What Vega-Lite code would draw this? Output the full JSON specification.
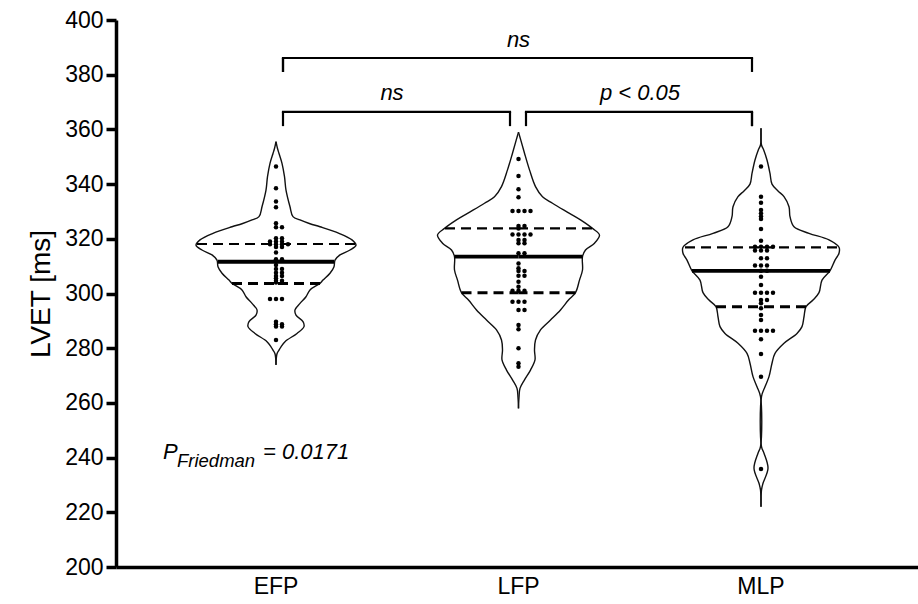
{
  "$schema": "https://vega.github.io/schema/vega-lite/v6.json",
  "width": 802,
  "height": 547,
  "autosize": "none",
  "padding": {"left": 116, "top": 20, "right": 0, "bottom": 37},
  "background": "white",
  "config": {"view": {"stroke": null}, "font": "Liberation Sans"},
  "datasets": {
    "dots": [
      {"group":"EFP","value":346.4},{"group":"EFP","value":338.5},{"group":"EFP","value":333.6},{"group":"EFP","value":331.5},{"group":"EFP","value":325.7},
      {"group":"EFP","value":324.2},{"group":"EFP","value":324.2},{"group":"EFP","value":320.2},{"group":"EFP","value":320.2},
      {"group":"EFP","value":319},{"group":"EFP","value":319},{"group":"EFP","value":319},
      {"group":"EFP","value":318},{"group":"EFP","value":318},{"group":"EFP","value":318},{"group":"EFP","value":318},
      {"group":"EFP","value":317},{"group":"EFP","value":317},{"group":"EFP","value":315},{"group":"EFP","value":312.5},{"group":"EFP","value":312.5},
      {"group":"EFP","value":310.4},{"group":"EFP","value":309},{"group":"EFP","value":309},{"group":"EFP","value":307.6},{"group":"EFP","value":307.6},
      {"group":"EFP","value":306.4},{"group":"EFP","value":306.4},{"group":"EFP","value":305.6},{"group":"EFP","value":304.7},{"group":"EFP","value":304.7},
      {"group":"EFP","value":304},{"group":"EFP","value":304},{"group":"EFP","value":298},{"group":"EFP","value":298},{"group":"EFP","value":298},
      {"group":"EFP","value":289.7},{"group":"EFP","value":288.8},{"group":"EFP","value":288.8},{"group":"EFP","value":287.9},{"group":"EFP","value":287.9},{"group":"EFP","value":283},

      {"group":"LFP","value":349.2},{"group":"LFP","value":343},{"group":"LFP","value":338.1},{"group":"LFP","value":335.2},
      {"group":"LFP","value":330.2},{"group":"LFP","value":330.2},{"group":"LFP","value":330.2},{"group":"LFP","value":330.2},
      {"group":"LFP","value":324.7},{"group":"LFP","value":324.7},{"group":"LFP","value":323.8},
      {"group":"LFP","value":321.6},{"group":"LFP","value":321.6},{"group":"LFP","value":321.6},{"group":"LFP","value":321.6},
      {"group":"LFP","value":319.6},{"group":"LFP","value":319.6},{"group":"LFP","value":318.4},{"group":"LFP","value":318.4},
      {"group":"LFP","value":314.7},{"group":"LFP","value":314.7},{"group":"LFP","value":311},{"group":"LFP","value":309.2},
      {"group":"LFP","value":308.2},{"group":"LFP","value":308.2},{"group":"LFP","value":306.5},{"group":"LFP","value":306.5},
      {"group":"LFP","value":304.3},{"group":"LFP","value":302.5},{"group":"LFP","value":301},{"group":"LFP","value":301},{"group":"LFP","value":301},
      {"group":"LFP","value":297},{"group":"LFP","value":297},{"group":"LFP","value":297},{"group":"LFP","value":294},{"group":"LFP","value":294},
      {"group":"LFP","value":288.5},{"group":"LFP","value":286.9},{"group":"LFP","value":280},{"group":"LFP","value":274.5},{"group":"LFP","value":273.2},

      {"group":"MLP","value":346.4},{"group":"MLP","value":335.4},{"group":"MLP","value":333.2},{"group":"MLP","value":330.5},{"group":"MLP","value":329.3},
      {"group":"MLP","value":328.2},{"group":"MLP","value":327.2},{"group":"MLP","value":323.6},{"group":"MLP","value":319.3},
      {"group":"MLP","value":317.1},{"group":"MLP","value":317.1},{"group":"MLP","value":317.1},{"group":"MLP","value":317.1},
      {"group":"MLP","value":315.7},{"group":"MLP","value":315.7},{"group":"MLP","value":315.7},{"group":"MLP","value":312.9},{"group":"MLP","value":312.9},
      {"group":"MLP","value":310.2},{"group":"MLP","value":310.2},{"group":"MLP","value":310.2},{"group":"MLP","value":308.3},{"group":"MLP","value":308.3},
      {"group":"MLP","value":306.1},{"group":"MLP","value":303.1},{"group":"MLP","value":300.3},{"group":"MLP","value":300.3},{"group":"MLP","value":300.3},{"group":"MLP","value":300.3},
      {"group":"MLP","value":297.6},{"group":"MLP","value":297.6},{"group":"MLP","value":296.4},{"group":"MLP","value":294.6},{"group":"MLP","value":292.1},{"group":"MLP","value":290.3},
      {"group":"MLP","value":286.4},{"group":"MLP","value":286.4},{"group":"MLP","value":286.4},{"group":"MLP","value":286.4},
      {"group":"MLP","value":283.3},{"group":"MLP","value":277.9},{"group":"MLP","value":269.6},{"group":"MLP","value":235.8}
    ],
    "outline": [
      {"group":"EFP","value":355.5,"density":0},{"group":"EFP","value":353.0,"density":0.015},{"group":"EFP","value":351.2,"density":0.03},
      {"group":"EFP","value":347.6,"density":0.06},{"group":"EFP","value":342.7,"density":0.085},{"group":"EFP","value":337.8,"density":0.10},
      {"group":"EFP","value":331.7,"density":0.14},{"group":"EFP","value":328.1,"density":0.17},{"group":"EFP","value":326.9,"density":0.24},
      {"group":"EFP","value":325.5,"density":0.34},{"group":"EFP","value":324.4,"density":0.44},{"group":"EFP","value":322.0,"density":0.63},
      {"group":"EFP","value":319.6,"density":0.76},{"group":"EFP","value":317.7,"density":0.80},{"group":"EFP","value":315.9,"density":0.74},
      {"group":"EFP","value":314.1,"density":0.64},{"group":"EFP","value":312.2,"density":0.59},{"group":"EFP","value":309.8,"density":0.58},
      {"group":"EFP","value":307.4,"density":0.54},{"group":"EFP","value":304.9,"density":0.47},{"group":"EFP","value":303.7,"density":0.44},
      {"group":"EFP","value":301.3,"density":0.34},{"group":"EFP","value":298.8,"density":0.30},{"group":"EFP","value":296.4,"density":0.24},
      {"group":"EFP","value":294.0,"density":0.19},{"group":"EFP","value":292.1,"density":0.20},{"group":"EFP","value":289.7,"density":0.27},
      {"group":"EFP","value":287.9,"density":0.28},{"group":"EFP","value":285.4,"density":0.21},{"group":"EFP","value":282.4,"density":0.09},
      {"group":"EFP","value":280.5,"density":0.05},{"group":"EFP","value":279.3,"density":0.03},{"group":"EFP","value":278.0,"density":0.01},
      {"group":"EFP","value":273.9,"density":0},

      {"group":"LFP","value":359.0,"density":0},{"group":"LFP","value":356.1,"density":0.023},{"group":"LFP","value":351.3,"density":0.06},
      {"group":"LFP","value":345.2,"density":0.11},{"group":"LFP","value":339.1,"density":0.17},{"group":"LFP","value":335.4,"density":0.24},
      {"group":"LFP","value":333.0,"density":0.34},{"group":"LFP","value":329.3,"density":0.51},{"group":"LFP","value":326.9,"density":0.62},
      {"group":"LFP","value":323.8,"density":0.74},{"group":"LFP","value":321.4,"density":0.81},{"group":"LFP","value":318.4,"density":0.76},
      {"group":"LFP","value":315.9,"density":0.67},{"group":"LFP","value":313.5,"density":0.64},{"group":"LFP","value":308.6,"density":0.64},
      {"group":"LFP","value":304.9,"density":0.61},{"group":"LFP","value":300.3,"density":0.57},{"group":"LFP","value":297.6,"density":0.50},
      {"group":"LFP","value":294.0,"density":0.42},{"group":"LFP","value":290.3,"density":0.32},{"group":"LFP","value":286.7,"density":0.22},
      {"group":"LFP","value":283.0,"density":0.17},{"group":"LFP","value":279.3,"density":0.16},{"group":"LFP","value":275.7,"density":0.165},
      {"group":"LFP","value":272.0,"density":0.12},{"group":"LFP","value":268.4,"density":0.06},{"group":"LFP","value":265.3,"density":0.015},
      {"group":"LFP","value":262.0,"density":0.005},{"group":"LFP","value":258.0,"density":0},

      {"group":"MLP","value":360.4,"density":0},{"group":"MLP","value":354.3,"density":0.005},{"group":"MLP","value":352.5,"density":0.027},
      {"group":"MLP","value":348.8,"density":0.06},{"group":"MLP","value":343.9,"density":0.09},{"group":"MLP","value":340.0,"density":0.11},
      {"group":"MLP","value":337.5,"density":0.17},{"group":"MLP","value":335.4,"density":0.23},{"group":"MLP","value":331.7,"density":0.28},
      {"group":"MLP","value":328.1,"density":0.29},{"group":"MLP","value":324.4,"density":0.33},{"group":"MLP","value":322.0,"density":0.48},
      {"group":"MLP","value":319.6,"density":0.68},{"group":"MLP","value":316.9,"density":0.78},{"group":"MLP","value":314.7,"density":0.78},
      {"group":"MLP","value":312.2,"density":0.74},{"group":"MLP","value":308.3,"density":0.69},{"group":"MLP","value":304.9,"density":0.61},
      {"group":"MLP","value":300.3,"density":0.58},{"group":"MLP","value":297.6,"density":0.52},{"group":"MLP","value":295.2,"density":0.45},
      {"group":"MLP","value":291.5,"density":0.43},{"group":"MLP","value":287.9,"density":0.41},{"group":"MLP","value":285.4,"density":0.36},
      {"group":"MLP","value":281.8,"density":0.23},{"group":"MLP","value":278.1,"density":0.14},{"group":"MLP","value":274.5,"density":0.11},
      {"group":"MLP","value":269.6,"density":0.08},{"group":"MLP","value":265.9,"density":0.04},{"group":"MLP","value":262.3,"density":0.005},
      {"group":"MLP","value":244.0,"density":0.005},{"group":"MLP","value":241.6,"density":0.03},{"group":"MLP","value":236.1,"density":0.07},
      {"group":"MLP","value":230.6,"density":0.02},{"group":"MLP","value":228.2,"density":0.005},{"group":"MLP","value":222.0,"density":0}
    ],
    "stats": [
      {"group":"EFP","stat":"Median","value":311.6,"density":0.58},
      {"group":"EFP","stat":"Q3","value":318.1,"density":0.79},
      {"group":"EFP","stat":"Q1","value":303.7,"density":0.44},
      {"group":"LFP","stat":"Median","value":313.5,"density":0.64},
      {"group":"LFP","stat":"Q3","value":323.8,"density":0.735},
      {"group":"LFP","stat":"Q1","value":300.3,"density":0.57},
      {"group":"MLP","stat":"Median","value":308.3,"density":0.69},
      {"group":"MLP","stat":"Q3","value":316.9,"density":0.76},
      {"group":"MLP","stat":"Q1","value":295.2,"density":0.45}
    ],
    "comparisons": [
      {"from":"EFP","to":"MLP","label":"ns"},
      {"from":"EFP","to":"LFP","label":"ns"},
      {"from":"LFP","to":"MLP","label":"p < 0.05"}
    ]
  },
  "resolve": {"scale": {"xOffset": "independent"}},
  "layer": [
    {
      "data": {"name": "outline"},
      "mark": {"type": "line", "interpolate": "catmull-rom", "stroke": "#111111", "strokeWidth": 1.4},
      "encoding": {
        "x": {
          "field": "group", "type": "nominal",
          "scale": {"domain": ["EFP","LFP","MLP"], "range": [0, 805], "paddingInner": 0, "paddingOuter": 0.1598},
          "axis": {
            "title": null, "labelAngle": 0, "labelFontSize": 23, "labelColor": "black", "labelFont": "Liberation Sans",
            "domainWidth": 3.5, "domainColor": "black", "ticks": false, "tickSize": 0, "labelPadding": 8,
            "encode": {"labels": {"update": {"dx": {"signal": "datum.value === 'EFP' ? 7 : (datum.value === 'MLP' ? -9 : -2)"}}}}
          }
        },
        "xOffset": {"field": "density", "type": "quantitative", "scale": {"domain": [0, 1], "range": [121.25, 221.25]}},
        "y": {
          "field": "value", "type": "quantitative",
          "scale": {"domain": [200, 400], "nice": false, "zero": false},
          "axis": {
            "title": "LVET [ms]", "values": [200,220,240,260,280,300,320,340,360,380,400],
            "grid": false, "tickSize": 10, "tickWidth": 3.5, "tickColor": "black",
            "domainWidth": 3.5, "domainColor": "black",
            "labelFontSize": 23, "labelColor": "black", "labelFont": "Liberation Sans", "labelPadding": 3,
            "titleFontSize": 28, "titleFont": "Liberation Sans", "titleFontWeight": "normal", "titleColor": "black", "titlePadding": 9
          }
        },
        "order": {"field": "value", "type": "quantitative"},
        "detail": {"field": "group", "type": "nominal"}
      }
    },
    {
      "data": {"name": "outline"},
      "mark": {"type": "line", "interpolate": "catmull-rom", "stroke": "#111111", "strokeWidth": 1.4},
      "encoding": {
        "x": {"field": "group", "type": "nominal"},
        "xOffset": {"field": "density", "type": "quantitative", "scale": {"domain": [0, 1], "range": [121.25, 21.25]}},
        "y": {"field": "value", "type": "quantitative"},
        "order": {"field": "value", "type": "quantitative"},
        "detail": {"field": "group", "type": "nominal"}
      }
    },
    {
      "data": {"name": "stats"},
      "mark": {"type": "rule", "stroke": "black"},
      "encoding": {
        "x": {"field": "group", "type": "nominal"},
        "xOffset": {"field": "density", "type": "quantitative", "scale": {"domain": [0, 1], "range": [121.25, 221.25]}},
        "x2": {"field": "group", "bandPosition": 0.5},
        "y": {"field": "value", "type": "quantitative"},
        "strokeDash": {"field": "stat", "type": "nominal", "scale": {"domain": ["Median","Q1","Q3"], "range": [[1,0],[10,6],[10,6]]}, "legend": null},
        "strokeWidth": {"field": "stat", "type": "nominal", "scale": {"domain": ["Median","Q1","Q3"], "range": [3.8,2.2,2.2]}, "legend": null}
      }
    },
    {
      "data": {"name": "stats"},
      "mark": {"type": "rule", "stroke": "black"},
      "encoding": {
        "x": {"field": "group", "type": "nominal"},
        "xOffset": {"field": "density", "type": "quantitative", "scale": {"domain": [0, 1], "range": [121.25, 21.25]}},
        "x2": {"field": "group", "bandPosition": 0.5},
        "y": {"field": "value", "type": "quantitative"},
        "strokeDash": {"field": "stat", "type": "nominal", "scale": {"domain": ["Median","Q1","Q3"], "range": [[1,0],[10,6],[10,6]]}, "legend": null},
        "strokeWidth": {"field": "stat", "type": "nominal", "scale": {"domain": ["Median","Q1","Q3"], "range": [3.8,2.2,2.2]}, "legend": null}
      }
    },
    {
      "data": {"name": "dots"},
      "transform": [{"window": [{"op": "row_number", "as": "tie"}], "groupby": ["group", "value"]}],
      "mark": {"type": "circle", "color": "black", "opacity": 1, "size": 20},
      "encoding": {
        "x": {"field": "group", "type": "nominal"},
        "xOffset": {"field": "tie", "type": "ordinal", "scale": {"type": "point", "domain": [7,5,3,1,2,4,6], "range": [103.25, 139.25], "padding": 0}},
        "y": {"field": "value", "type": "quantitative"}
      }
    },
    {
      "data": {"name": "comparisons"},
      "transform": [{"filter": "datum.from === 'EFP' && datum.to === 'MLP'"}],
      "mark": {"type": "rule", "color": "black", "strokeWidth": 2.2, "xOffset": 7, "x2Offset": -9, "strokeCap": "square"},
      "encoding": {"x": {"field": "from", "type": "nominal"}, "x2": {"field": "to"}, "y": {"datum": 386.1}}
    },
    {
      "data": {"name": "comparisons"},
      "transform": [{"filter": "datum.from === 'EFP'"}],
      "mark": {"type": "rule", "color": "black", "strokeWidth": 2.2, "xOffset": 7},
      "encoding": {"x": {"field": "from", "type": "nominal"}, "y": {"datum": 386.1}, "y2": {"datum": 381}}
    },
    {
      "data": {"name": "comparisons"},
      "transform": [{"filter": "datum.from === 'EFP' && datum.to === 'MLP'"}],
      "mark": {"type": "rule", "color": "black", "strokeWidth": 2.2, "xOffset": -9},
      "encoding": {"x": {"field": "to", "type": "nominal"}, "y": {"datum": 386.1}, "y2": {"datum": 381}}
    },
    {
      "data": {"name": "comparisons"},
      "transform": [{"filter": "datum.from === 'EFP' && datum.to === 'MLP'"}],
      "mark": {"type": "text", "fontSize": 22, "fontStyle": "italic", "color": "black", "baseline": "middle", "dx": 0},
      "encoding": {"x": {"datum": "LFP", "type": "nominal"}, "y": {"datum": 392.7}, "text": {"field": "label"}}
    },
    {
      "data": {"name": "comparisons"},
      "transform": [{"filter": "datum.from === 'EFP' && datum.to === 'LFP'"}],
      "mark": {"type": "rule", "color": "black", "strokeWidth": 2.2, "xOffset": 7, "x2Offset": -8.5, "strokeCap": "square"},
      "encoding": {"x": {"field": "from", "type": "nominal"}, "x2": {"field": "to"}, "y": {"datum": 366.4}}
    },
    {
      "data": {"name": "comparisons"},
      "transform": [{"filter": "datum.from === 'EFP' && datum.to === 'LFP'"}],
      "mark": {"type": "rule", "color": "black", "strokeWidth": 2.2, "xOffset": 7},
      "encoding": {"x": {"field": "from", "type": "nominal"}, "y": {"datum": 366.4}, "y2": {"datum": 361.2}}
    },
    {
      "data": {"name": "comparisons"},
      "transform": [{"filter": "datum.from === 'EFP' && datum.to === 'LFP'"}],
      "mark": {"type": "rule", "color": "black", "strokeWidth": 2.2, "xOffset": -8.5},
      "encoding": {"x": {"field": "to", "type": "nominal"}, "y": {"datum": 366.4}, "y2": {"datum": 361.2}}
    },
    {
      "data": {"name": "comparisons"},
      "transform": [{"filter": "datum.from === 'EFP' && datum.to === 'LFP'"}],
      "mark": {"type": "text", "fontSize": 22, "fontStyle": "italic", "color": "black", "baseline": "middle", "dx": 116},
      "encoding": {"x": {"datum": "EFP", "type": "nominal"}, "y": {"datum": 373.3}, "text": {"field": "label"}}
    },
    {
      "data": {"name": "comparisons"},
      "transform": [{"filter": "datum.from === 'LFP' && datum.to === 'MLP'"}],
      "mark": {"type": "rule", "color": "black", "strokeWidth": 2.2, "xOffset": 7.5, "x2Offset": -9, "strokeCap": "square"},
      "encoding": {"x": {"field": "from", "type": "nominal"}, "x2": {"field": "to"}, "y": {"datum": 366.4}}
    },
    {
      "data": {"name": "comparisons"},
      "transform": [{"filter": "datum.from === 'LFP' && datum.to === 'MLP'"}],
      "mark": {"type": "rule", "color": "black", "strokeWidth": 2.2, "xOffset": 7.5},
      "encoding": {"x": {"field": "from", "type": "nominal"}, "y": {"datum": 366.4}, "y2": {"datum": 361.2}}
    },
    {
      "data": {"name": "comparisons"},
      "transform": [{"filter": "datum.to === 'MLP'"}],
      "mark": {"type": "rule", "color": "black", "strokeWidth": 2.2, "xOffset": -9},
      "encoding": {"x": {"field": "to", "type": "nominal"}, "y": {"datum": 366.4}, "y2": {"datum": 361.2}}
    },
    {
      "data": {"name": "comparisons"},
      "transform": [{"filter": "datum.from === 'LFP' && datum.to === 'MLP'"}],
      "mark": {"type": "text", "fontSize": 22, "fontStyle": "italic", "color": "black", "baseline": "middle", "dx": 121.5},
      "encoding": {"x": {"datum": "LFP", "type": "nominal"}, "y": {"datum": 373.3}, "text": {"field": "label"}}
    },
    {
      "data": {"values": [{"part": "P"}]},
      "mark": {"type": "text", "fontSize": 22, "fontStyle": "italic", "color": "black", "baseline": "middle", "align": "left", "dx": -113},
      "encoding": {"x": {"datum": "EFP", "type": "nominal"}, "y": {"datum": 242}, "text": {"field": "part"}}
    },
    {
      "data": {"values": [{"part": "Friedman"}]},
      "mark": {"type": "text", "fontSize": 18.5, "fontStyle": "italic", "color": "black", "baseline": "middle", "align": "left", "dx": -99, "dy": 9},
      "encoding": {"x": {"datum": "EFP", "type": "nominal"}, "y": {"datum": 242}, "text": {"field": "part"}}
    },
    {
      "data": {"values": [{"part": "= 0.0171"}]},
      "mark": {"type": "text", "fontSize": 22, "fontStyle": "italic", "color": "black", "baseline": "middle", "align": "left", "dx": -13},
      "encoding": {"x": {"datum": "EFP", "type": "nominal"}, "y": {"datum": 242}, "text": {"field": "part"}}
    }
  ]
}
